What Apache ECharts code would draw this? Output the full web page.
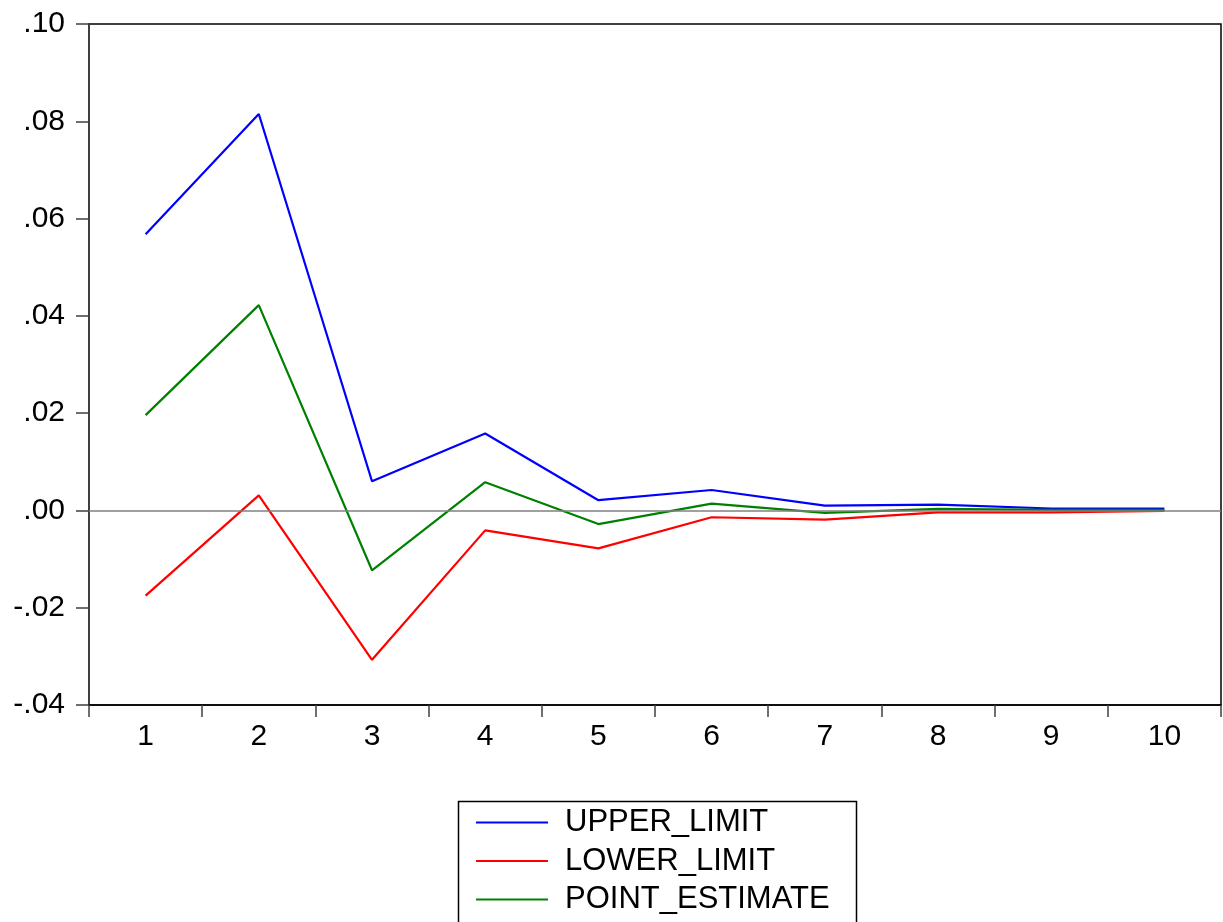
<!DOCTYPE html>
<html>
<head>
<meta charset="utf-8">
<script src="https://cdn.jsdelivr.net/npm/echarts@6/dist/echarts.min.js"></script>
<style>
html,body{margin:0;padding:0;background:#fff;}
#chart{width:1223px;height:922px;}
</style>
</head>
<body>
<div id="chart"></div>
<script>
const categories = ['1','2','3','4','5','6','7','8','9','10'];
const upperLimit = [0.0568, 0.0815, 0.0060, 0.0158, 0.0021, 0.0042, 0.0010, 0.0012, 0.0004, 0.0004];
const lowerLimit = [-0.0175, 0.0031, -0.0307, -0.0041, -0.0078, -0.0014, -0.0019, -0.0004, -0.0004, -0.0001];
const pointEstimate = [0.0196, 0.0422, -0.0123, 0.0058, -0.0028, 0.0014, -0.0005, 0.0003, 0.0001, 0.0001];
const yTicks = { min: -0.04, max: 0.10, interval: 0.02 };

const FONT = "'Liberation Sans', Arial, sans-serif";
const chart = echarts.init(document.getElementById('chart'), null, { renderer: 'canvas' });

function fmt(v) {
  const s = Math.abs(v).toFixed(2).replace(/^0/, '');
  return (v < -1e-9 ? '-' : '') + s;
}

const mk = (name, data, color) => ({
  name, type: 'line', data, symbol: 'none', smooth: false,
  lineStyle: { color, width: 2.2 }, itemStyle: { color },
  animation: false, z: 3
});

const series = [
  mk('UPPER_LIMIT', upperLimit, '#0000ff'),
  mk('LOWER_LIMIT', lowerLimit, '#ff0000'),
  mk('POINT_ESTIMATE', pointEstimate, '#008000')
];
series[0].markLine = {
  silent: true, symbol: ['none', 'none'], label: { show: false },
  lineStyle: { color: '#808080', width: 1.5, type: 'solid' },
  data: [{ yAxis: 0 }], animation: false
};

chart.setOption({
  animation: false,
  backgroundColor: '#ffffff',
  grid: {
    left: 89, right: 2, top: 24, bottom: 217,
    show: true, borderColor: '#000000', borderWidth: 1.5, containLabel: false
  },
  xAxis: {
    type: 'category', data: categories, boundaryGap: true,
    axisLine: { show: true, onZero: false, lineStyle: { color: '#000000', width: 1.5 } },
    axisTick: { show: true, inside: false, length: 12, lineStyle: { color: '#404040', width: 1.5 } },
    axisLabel: { color: '#000000', fontSize: 30, fontFamily: FONT, margin: 17 },
    splitLine: { show: false }
  },
  yAxis: {
    type: 'value', min: yTicks.min, max: yTicks.max, interval: yTicks.interval,
    axisLine: { show: true, lineStyle: { color: '#404040', width: 1.5 } },
    axisTick: { show: true, inside: false, length: 13, lineStyle: { color: '#404040', width: 1.5 } },
    axisLabel: { color: '#000000', fontSize: 30, fontFamily: FONT, margin: 24, formatter: fmt },
    splitLine: { show: false }
  },
  legend: {
    orient: 'vertical', left: 476, top: 807, padding: 0,
    icon: 'rect', itemWidth: 72, itemHeight: 2, itemGap: 7.5,
    textStyle: { color: '#000000', fontSize: 31, fontFamily: FONT, lineHeight: 30, padding: [0, 0, 0, 12] },
    selectedMode: false,
    data: ['UPPER_LIMIT', 'LOWER_LIMIT', 'POINT_ESTIMATE']
  },
  graphic: [{
    type: 'rect', left: 456, top: 799,
    shape: { width: 398, height: 200 },
    style: { fill: 'none', stroke: '#000000', lineWidth: 1.5 },
    silent: true
  }],
  series
});
</script>
</body>
</html>
